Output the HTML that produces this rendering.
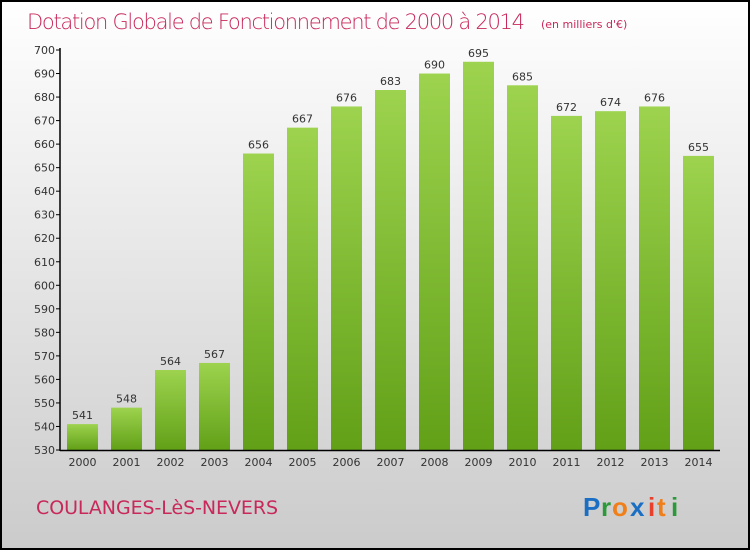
<!DOCTYPE html>
<html><head><meta charset="utf-8"><style>
body{margin:0;padding:0;}
#wrap{position:relative;width:750px;height:550px;overflow:hidden;}
svg{display:block;font-family:"DejaVu Sans","Liberation Sans",sans-serif;}
</style></head><body>
<div id="wrap">
<svg id="chart" width="750" height="550">
<defs>
<linearGradient id="bg" x1="0" y1="0" x2="0" y2="1"><stop offset="0" stop-color="#ffffff"/><stop offset="1" stop-color="#cbcbcb"/></linearGradient>
<linearGradient id="bar" x1="0" y1="0" x2="0" y2="1"><stop offset="0" stop-color="#9dd34e"/><stop offset="1" stop-color="#62a018"/></linearGradient>
</defs>
<rect x="1" y="1" width="748" height="548" fill="url(#bg)" stroke="#000" stroke-width="2"/>
<text x="27" y="29" font-size="21" fill="#c8285a" font-family="'DejaVu Sans',sans-serif" font-weight="200" textLength="498">Dotation Globale de Fonctionnement de 2000 à 2014</text>
<text x="541" y="28" font-size="11" fill="#c8285a">(en milliers d'€)</text>
<g id="plot"></g>
<text x="36" y="514" font-size="19" fill="#c8285a" textLength="242">COULANGES-LèS-NEVERS</text>
<g font-size="26" font-family="'Liberation Sans',sans-serif" font-weight="bold">
<text x="583" y="516" fill="#1a6fc4">P</text><text x="601" y="516" fill="#2a9a3a">r</text><text x="612" y="516" fill="#f07f1a">o</text><text x="630" y="516" fill="#1a6fc4">x</text><text x="648" y="516" fill="#e8402a">i</text><text x="657" y="516" fill="#f07f1a">t</text><text x="671" y="516" fill="#2a9a3a">i</text>
</g>
</svg></div>
<script>
const years=["2000","2001","2002","2003","2004","2005","2006","2007","2008","2009","2010","2011","2012","2013","2014"];
const values=[541,548,564,567,656,667,676,683,690,695,685,672,674,676,655];
const yTicks=[530,540,550,560,570,580,590,600,610,620,630,640,650,660,670,680,690,700];
const NS="http://www.w3.org/2000/svg";
const g=document.getElementById('plot');
const yMin=530,yMax=700,y0=450,y1=50;
function ys(v){return y0-(v-yMin)*(y0-y1)/(yMax-yMin);}
function xs(i){return 82.5+i*44;}
function mk(t,a){const e=document.createElementNS(NS,t);for(const k in a)e.setAttribute(k,a[k]);g.appendChild(e);return e;}
yTicks.forEach(v=>{
 const l=mk('line',{x1:56,x2:60,y1:ys(v),y2:ys(v),stroke:'#000'});
 
 
 const t=mk('text',{x:55,y:ys(v)+4,'text-anchor':'end','font-size':11,fill:'#333'});
 t.textContent=v;
 
 
});
values.forEach((v,i)=>{
 const r=mk('rect',{x:xs(i)-15.5,y:ys(v),width:31,height:y0-ys(v),fill:'url(#bar)'});
 
 
 const t=mk('text',{x:xs(i),y:ys(v)-5,'text-anchor':'middle','font-size':11,fill:'#333'});
 t.textContent=v;
 
 
 const c=mk('text',{x:xs(i),y:466,'text-anchor':'middle','font-size':11,fill:'#333'});
 c.textContent=years[i];
 
 
});
const ya=mk('line',{x1:60,x2:60,y1:48,y2:451,stroke:'#000','stroke-width':1.5});


const xa=mk('line',{x1:60,x2:720,y1:450.5,y2:450.5,stroke:'#000','stroke-width':1.5});


</script>
</body></html>
